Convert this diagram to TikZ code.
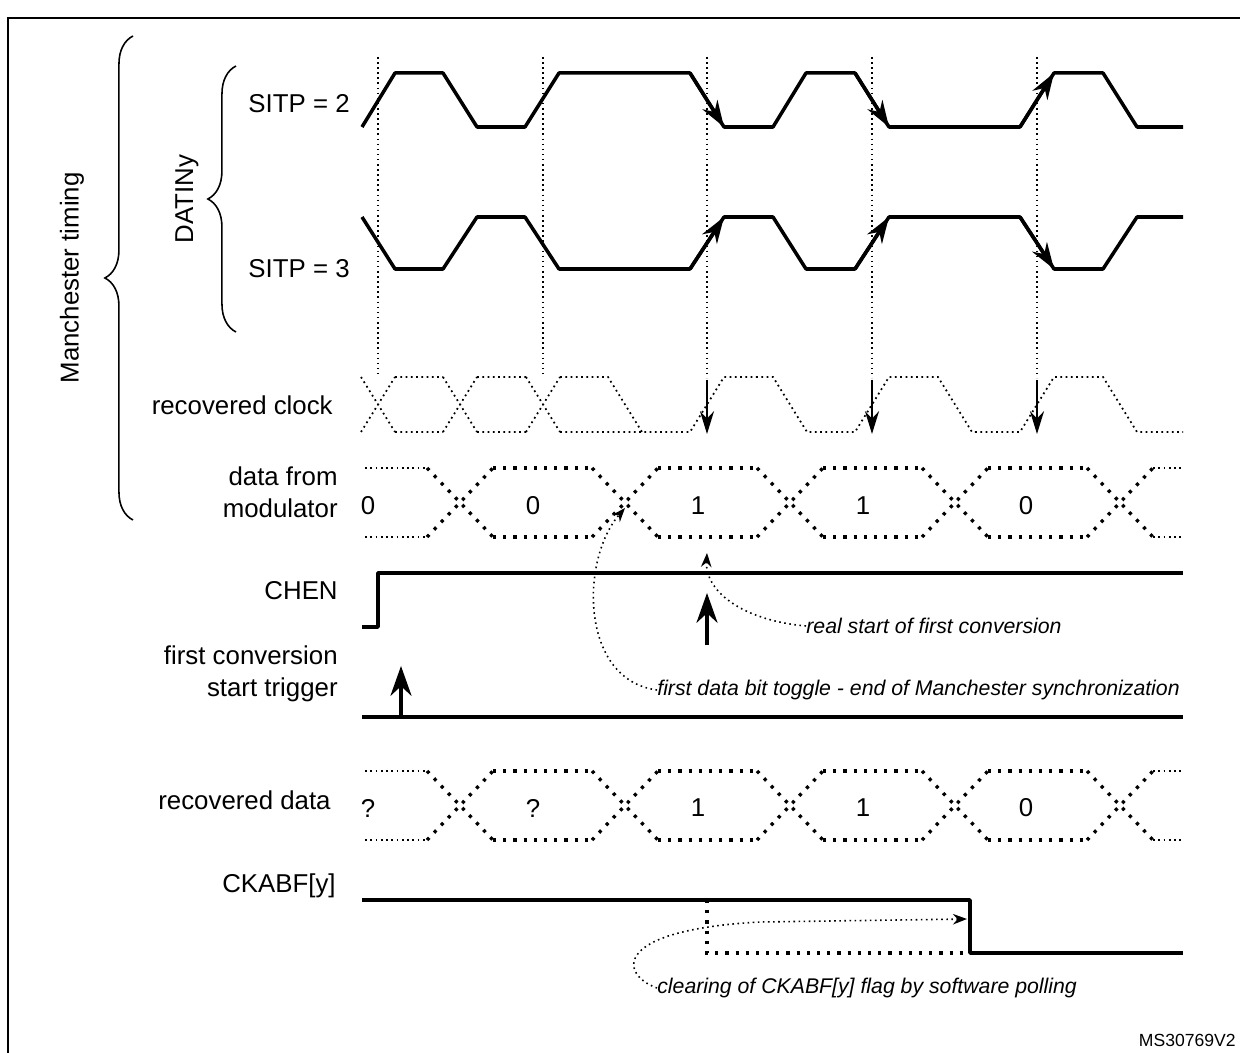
\documentclass[tikz,border=0pt]{standalone}
\usepackage{fontspec}
\setmainfont{Liberation Sans}
\usetikzlibrary{arrows.meta,decorations.pathreplacing}
\tikzset{
  wave/.style={line width=2pt, line join=round},
  guide/.style={dotted, line width=0.9pt},
  busthin/.style={dotted, line width=1pt},
  busthick/.style={line width=1.9pt, dash pattern=on 1.8pt off 4pt},
  note/.style={dotted, line width=0.9pt, -{Stealth[length=8pt]}},
  clkmark/.style={line width=1pt, -{Stealth[length=13pt,width=8pt]}},
  bigmark/.style={line width=2pt, -{Stealth[length=17pt,width=12pt]}},
  lbl/.style={font=\fontsize{14.7}{18}\selectfont, align=right, anchor=east, inner sep=0pt},
  itl/.style={font=\fontsize{12.1}{14}\selectfont\itshape, anchor=west, inner sep=0pt},
  bit/.style={font=\fontsize{14.7}{18}\selectfont, inner sep=0pt}
}
\begin{document}
\begin{tikzpicture}[x=0.02cm, y=-0.02cm]
  \useasboundingbox (0,0) rectangle (1240,1053);
  \draw[line width=0.9pt] (8,1053) -- (8,18) -- (1240,18);

  % guide lines
  \foreach \x in {378,543} \draw[guide] (\x,57) -- (\x,375);
  \foreach \x in {707,872,1037} \draw[guide] (\x,57) -- (\x,378);

  % SITP = 2
  \draw[wave] (362,127) -- (395,73) -- (443,73) -- (477,127) -- (525,127) -- (559,73)
    -- (690,73) -- (724,127) -- (773,127) -- (806,73) -- (855,73) -- (889,127)
    -- (1020,127) -- (1054,73) -- (1103,73) -- (1137,127) -- (1183,127);
  \foreach \a/\b/\c/\d in {690/73/724/127, 855/73/889/127, 1020/127/1054/73}
    \draw[wave, -{Stealth[length=15pt,width=10pt]}] (\a,\b) -- (\c,\d);
  % SITP = 3
  \draw[wave] (362,217) -- (395,269) -- (443,269) -- (477,217) -- (525,217) -- (559,269)
    -- (690,269) -- (724,217) -- (773,217) -- (806,269) -- (855,269) -- (889,217)
    -- (1020,217) -- (1054,269) -- (1103,269) -- (1137,217) -- (1183,217);
  \foreach \a/\b/\c/\d in {690/269/724/217, 855/269/889/217, 1020/217/1054/269}
    \draw[wave, -{Stealth[length=15pt,width=10pt]}] (\a,\b) -- (\c,\d);

  % recovered clock
  \foreach \c in {378,460,543}
    \draw[busthin] (\c-17,377) -- (\c+17,432) (\c-17,432) -- (\c+17,377);
  \draw[busthin] (395,377) -- (443,377) (477,377) -- (526,377) (560,377) -- (608,377) -- (642,432);
  \draw[busthin] (395,432) -- (443,432) (477,432) -- (526,432) (560,432) -- (690,432)
    -- (724,377) -- (773,377) -- (807,432) -- (855,432) -- (889,377) -- (938,377) -- (972,432)
    -- (1020,432) -- (1054,377) -- (1103,377) -- (1137,432) -- (1183,432);
  \foreach \x in {707,872,1037}
    \draw[clkmark] (\x,380) -- (\x,434);

  % data from modulator / recovered data
  \foreach \t/\b in {468/537, 771/840} {
    \draw[busthin] (365,\t) -- (427,\t) (365,\b) -- (427,\b);
    \draw[busthin] (1153,\t) -- (1183,\t) (1153,\b) -- (1183,\b);
    \foreach \c in {460,625,790,955,1120}
      \draw[busthick] (\c-33,\t) -- (\c+33,\b) (\c-33,\b) -- (\c+33,\t);
    \foreach \c in {460,625,790,955}
      \draw[busthick] (\c+33,\t) -- (\c+132,\t) (\c+33,\b) -- (\c+132,\b);
  }
  \foreach \x/\v [count=\i] in {368/0,533/0,698/1,863/1,1026/0}
    \node[bit] (dm\i) at (\x,506) {\v};
  \foreach \x/\v [count=\i] in {368/?,533/?,698/1,863/1,1026/0}
    \node[bit] (rd\i) at (\x,808) {\v};

  % CHEN
  \draw[wave] (362,627) -- (378,627) -- (378,573) -- (1183,573);
  \coordinate (chenlo) at (707,645);
  \coordinate (chenhi) at (707,593);
  \draw[bigmark] (chenlo) -- (chenhi);

  % first conversion start trigger
  \draw[wave] (362,717) -- (1183,717);
  \coordinate (trlo) at (401,717);
  \coordinate (trhi) at (401,666);
  \draw[bigmark] (trlo) -- (trhi);

  % CKABF[y]
  \draw[wave] (362,900) -- (970,900) -- (970,953) -- (1183,953);
  \draw[busthick] (707,900) -- (707,953) -- (968,953);

  % annotations
  \node[itl] (realstart) at (806,626) {real start of first conversion};
  \node[itl] (toggle) at (657,690) {first data bit toggle - end of Manchester synchronization};
  \node[itl] (clearing) at (657,988) {clearing of CKABF[y] flag by software polling};
  \coordinate (startpt) at (707,553);
  \coordinate (togglept) at (625,508);
  \coordinate (clearpt) at (967,919);
  \draw[note] (realstart.west) .. controls (740,620) and (705,590) .. (startpt);
  \draw[note] (toggle.west) .. controls (580,680) and (580,560) .. (togglept);
  \draw[note] (clearing.west) .. controls (620,975) and (610,930) .. (760,922) -- (clearpt);

  % row labels
  \node[lbl] (sitp2) at (350,104) {SITP = 2};
  \node[lbl] (sitp3) at (350,269) {SITP = 3};
  \node[lbl] (rclk) at (333,405) {recovered clock};
  \node[lbl] (dmod) at (338,492) {data from\\modulator};
  \node[lbl] (chen) at (338,591) {CHEN};
  \node[lbl] (trig) at (338,674) {first conversion\\start trigger};
  \node[lbl] (rdat) at (331,800) {recovered data};
  \node[lbl] (ckabf) at (336,886) {CKABF[y]};

  % braces
  \draw[line width=0.9pt, decorate, decoration={brace, amplitude=16pt}] (236,332) -- (236,66);
  \node[font=\fontsize{14.7}{18}\selectfont, rotate=90] (datiny) at (187,199) {DATINy};
  \draw[line width=0.9pt, decorate, decoration={brace, amplitude=16pt}] (133,520) -- (133,36);
  \node[font=\fontsize{14.7}{18}\selectfont, rotate=90] (manch) at (72,278) {Manchester timing};

  \node[font=\fontsize{10}{12}\selectfont, anchor=east, inner sep=0pt] (code) at (1236,1040) {MS30769V2};
\end{tikzpicture}
\end{document}
